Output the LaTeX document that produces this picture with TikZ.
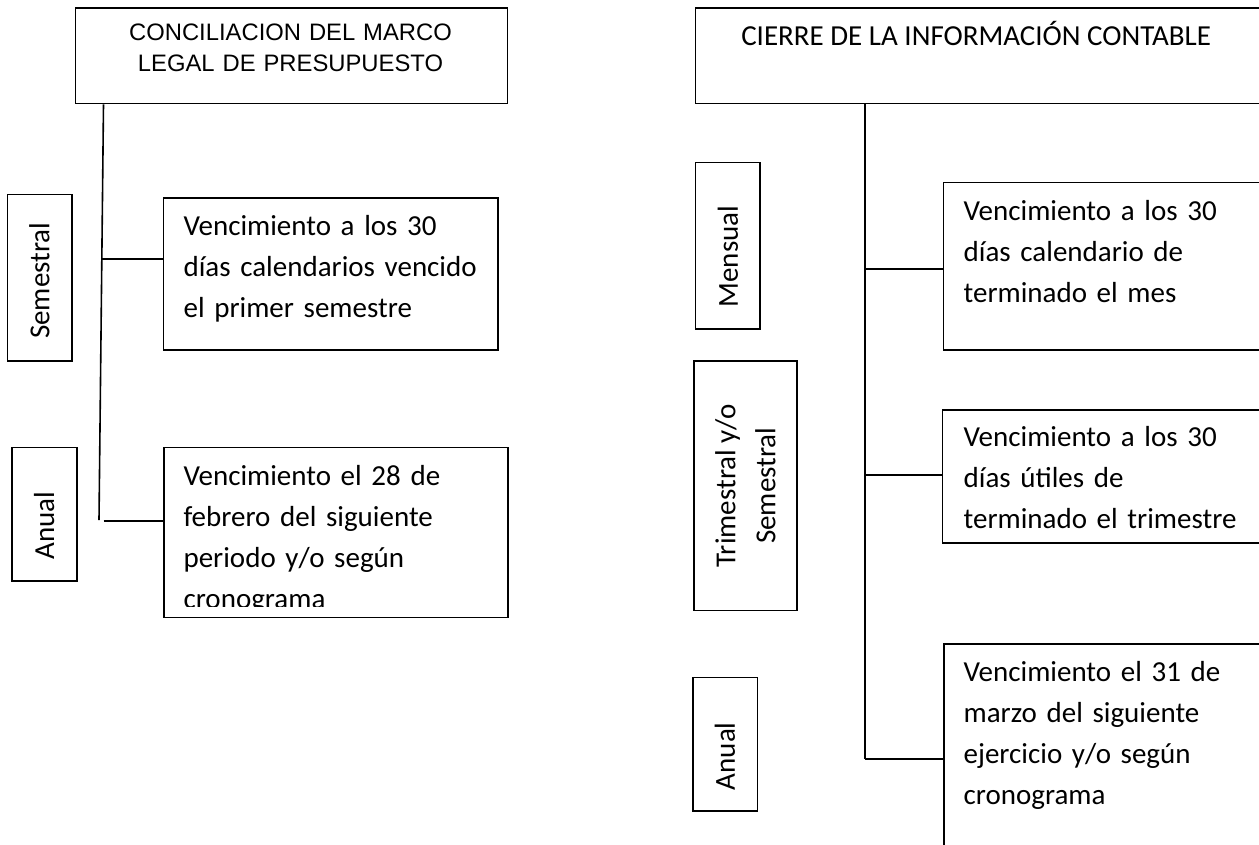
\documentclass[tikz,border=0pt]{standalone}
\usepackage{fontspec}
\setmainfont{Carlito}
\newfontfamily\arialfont{Liberation Sans}
\newcommand{\cuerpo}{\fontsize{21.75pt}{30.75pt}\selectfont}
\tikzstyle{caja} = [rectangle,
                    draw=black,
                    line width=1.2pt,
                    inner sep=0pt]
\tikzstyle{periodo} = [rectangle,
                       draw=black,
                       line width=1.2pt,
                       rotate=90,
                       inner sep=0pt,
                       font=\fontsize{21.75pt}{30pt}\selectfont]
\tikzstyle{texto} = [inner sep=0pt,
                     anchor=base west,
                     text width=250pt,
                     align=left,
                     font=\cuerpo]
\tikzstyle{titulo} = [inner sep=0pt,
                      anchor=base,
                      text width=300pt,
                      align=center,
                      font=\arialfont\fontsize{17.85pt}{23.8pt}\selectfont]
\tikzstyle{linea} = [line width=1.2pt]
\tikzset{tam/.style 2 args={minimum width=#1*0.75pt, minimum height=#2*0.75pt},
         bajar/.style={execute at begin node={\hspace*{-#1}},
                       execute at end node={\hspace*{#1}}}}

\begin{document}
\begin{tikzpicture}[x=0.75pt, y=-0.75pt]
        \clip (0,0) rectangle (1259,844);

        % presupuesto
        \node (TituloPresupuesto) [caja, tam={432}{95.4}, anchor=north west] at (74.7,7.3) {};
        \node (TextoPresupuesto) [titulo] at ([shift={(215.8,32.7)}]TituloPresupuesto.north west) {CONCILIACION DEL MARCO\\LEGAL DE PRESUPUESTO};
        \node (Semestral) [periodo, tam={166.7}{64.4}, bajar=2.25pt] at (39.5,277.7) {Semestral};
        \node (AnualPresupuesto) [periodo, tam={133.3}{65}, bajar=8.6pt] at (44.2,514.3) {Anual};
        \node (VencSemestral) [caja, tam={334.6}{152.3}, anchor=north west] at (162.7,197) {};
        \node (TextoSemestral) [texto] at ([shift={(20.6,38)}]VencSemestral.north west) {Vencimiento a los 30\\días calendarios vencido\\el primer semestre};
        \node (VencAnualP) [caja, tam={344.3}{170}, anchor=north west] at (163,446.7) {};
        \begin{scope}
            \clip (163,446.7) rectangle (507.3,606.7);
            \node (TextoAnualP) [texto] at ([shift={(20.3,38.3)}]VencAnualP.north west) {Vencimiento el 28 de\\febrero del siguiente\\periodo y/o según\\cronograma};
        \end{scope}

        \coordinate (TroncoP) at (103.5,102.7);
        \coordinate (FinP) at (99,520);
        \coordinate (RamaP1) at (101.6,259);
        \coordinate (RamaP2) at (103.5,521);
        \draw [linea] (TroncoP |- TituloPresupuesto.south) -- (FinP);
        \draw [linea] (RamaP1) -- (RamaP1 -| VencSemestral.west);
        \draw [linea] (RamaP2) -- (RamaP2 -| VencAnualP.west);

        % contable
        \node (TituloContable) [caja, tam={620}{95.4}, anchor=north west] at (694.7,7.3) {};
        \node (TextoContable) [inner sep=0pt, anchor=base west, font=\cuerpo] at ([shift={(46.3,38.4)}]TituloContable.north west) {CIERRE DE LA INFORMACIÓN CONTABLE};
        \node (Mensual) [periodo, tam={166.4}{64.3}, bajar=8.25pt] at (727.8,245.5) {Mensual};
        \node (Trimestral) [periodo, tam={249.7}{103}, align=center] at (745.5,485.8) {Trimestral y/o\\Semestral};
        \node (AnualContable) [periodo, tam={133.3}{64.6}, bajar=9pt] at (725,744.3) {Anual};
        \node (VencMensual) [caja, tam={360}{167.6}, anchor=north west] at (942.7,181.7) {};
        \node (TextoMensual) [texto] at ([shift={(20.7,38.3)}]VencMensual.north west) {Vencimiento a los 30\\días calendario de\\terminado el mes};
        \node (VencTrimestral) [caja, tam={360}{133.3}, anchor=north west] at (941.7,409) {};
        \node (TextoTrimestral) [texto] at ([shift={(21.7,37.7)}]VencTrimestral.north west) {Vencimiento a los 30\\días útiles de\\terminado el trimestre};
        \node (VencAnualC) [caja, tam={360}{260}, anchor=north west] at (943,643.3) {};
        \node (TextoAnualC) [texto] at ([shift={(20.4,38.4)}]VencAnualC.north west) {Vencimiento el 31 de\\marzo del siguiente\\ejercicio y/o según\\cronograma};

        \coordinate (TroncoC) at (865,102.7);
        \coordinate (RamaC1) at (865,269);
        \coordinate (RamaC2) at (865,475);
        \coordinate (RamaC3) at (865,759);
        \draw [linea] (TroncoC |- TituloContable.south) -- (RamaC3);
        \draw [linea] (RamaC1) -- (RamaC1 -| VencMensual.west);
        \draw [linea] (RamaC2) -- (RamaC2 -| VencTrimestral.west);
        \draw [linea] (RamaC3) -- (RamaC3 -| VencAnualC.west);
    \end{tikzpicture}
\end{document}
